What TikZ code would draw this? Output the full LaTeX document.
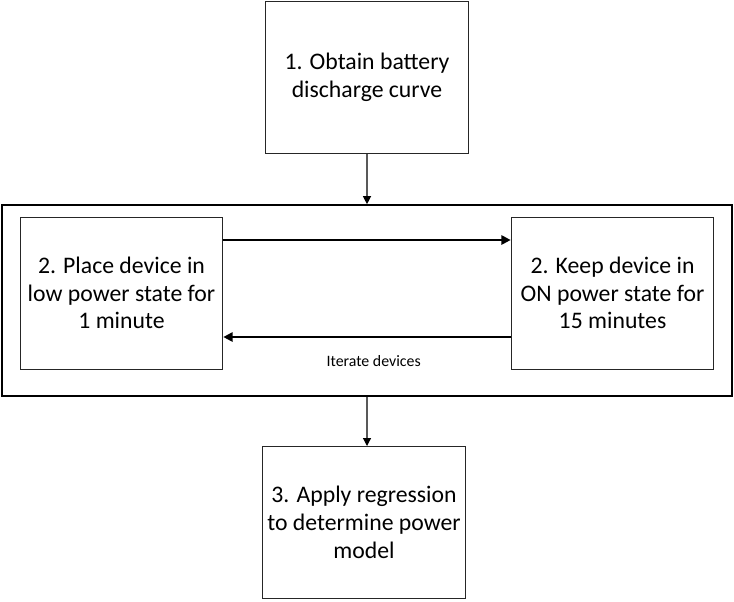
\documentclass[tikz,border=0pt]{standalone}
\usepackage{fontspec}
\setmainfont{Carlito}
\usetikzlibrary{arrows.meta,positioning}

\begin{document}
\begin{tikzpicture}[x=0.75pt,y=-0.75pt,
    block/.style={draw=black!85,line width=0.75pt,fill=white,align=center,
      minimum width=152pt,minimum height=114pt,inner sep=0pt,
      font=\fontsize{17.8}{20.8}\selectfont},
    loopframe/.style={draw=black,line width=1.5pt,minimum width=547.5pt,
      minimum height=143pt,inner sep=0pt},
    feed/.style={draw=black!65,line width=0.9pt,-{Triangle[color=black,length=6pt,width=6pt]}},
    cycle/.style={draw=black,line width=1.5pt,-{Triangle[length=7pt,width=7pt]}}]
    \useasboundingbox (0,0) rectangle (734,601);
    \node[loopframe] (loop)     at (367,300.5) {};
    \node[block]     (obtain)   at (367,77.5)  {1. Obtain battery\\discharge curve};
    \node[block]     (lowpower) at (121.5,293) {2. Place device in\\low power state for\\1 minute};
    \node[block]     (onpower)  at (612.5,293) {2. Keep device in\\ON power state for\\15 minutes};
    \node[block]     (regress)  at (364,522.5) {3. Apply regression\\to determine power\\model};
    \path (obtain.south) edge[feed] (loop.north)
          (loop.south)   edge[feed] (loop.south |- regress.north);
    \path ([yshift=39.75pt]lowpower.east) edge[cycle] ([yshift=39.75pt]onpower.west)
          ([yshift=-33pt]onpower.west) edge[cycle] node [below=10pt,xshift=5pt,font=\fontsize{11.9}{14}\selectfont] {Iterate devices} ([yshift=-33pt]lowpower.east);
\end{tikzpicture}
\end{document}
